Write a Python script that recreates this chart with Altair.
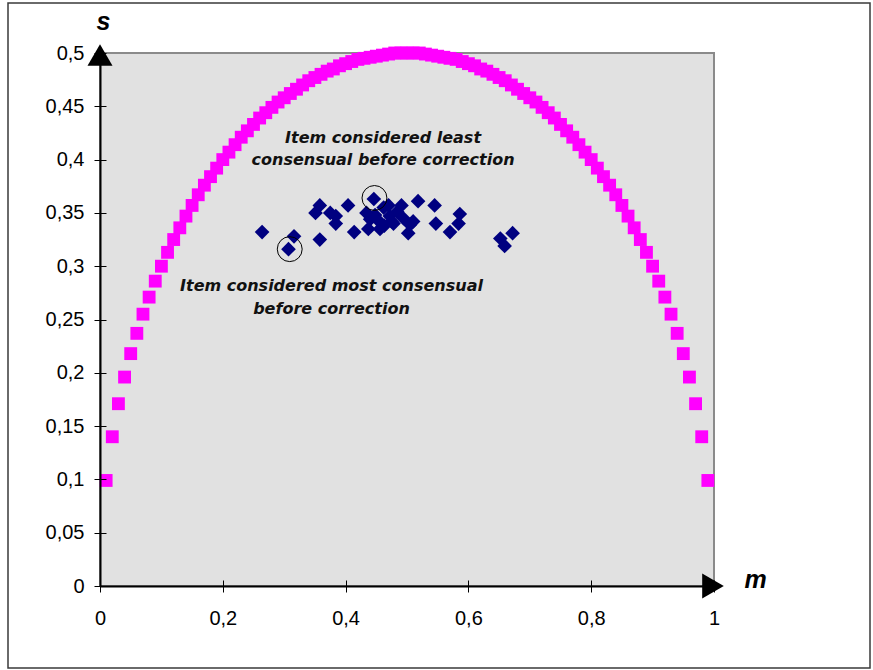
import altair as alt
import pandas as pd

# ---- data ----
curve_m = [0.01, 0.02, 0.03, 0.04, 0.05, 0.06, 0.07, 0.08, 0.09, 0.10,
           0.11, 0.12, 0.13, 0.14, 0.15, 0.16, 0.17, 0.18, 0.19, 0.20,
           0.21, 0.22, 0.23, 0.24, 0.25, 0.26, 0.27, 0.28, 0.29, 0.30,
           0.31, 0.32, 0.33, 0.34, 0.35, 0.36, 0.37, 0.38, 0.39, 0.40,
           0.41, 0.42, 0.43, 0.44, 0.45, 0.46, 0.47, 0.48, 0.49, 0.50,
           0.51, 0.52, 0.53, 0.54, 0.55, 0.56, 0.57, 0.58, 0.59, 0.60,
           0.61, 0.62, 0.63, 0.64, 0.65, 0.66, 0.67, 0.68, 0.69, 0.70,
           0.71, 0.72, 0.73, 0.74, 0.75, 0.76, 0.77, 0.78, 0.79, 0.80,
           0.81, 0.82, 0.83, 0.84, 0.85, 0.86, 0.87, 0.88, 0.89, 0.90,
           0.91, 0.92, 0.93, 0.94, 0.95, 0.96, 0.97, 0.98, 0.99]
curve_s = [0.099, 0.140, 0.171, 0.196, 0.218, 0.237, 0.255, 0.271, 0.286, 0.300,
           0.313, 0.325, 0.336, 0.347, 0.357, 0.367, 0.376, 0.384, 0.392, 0.400,
           0.407, 0.414, 0.421, 0.427, 0.433, 0.439, 0.444, 0.449, 0.454, 0.458,
           0.462, 0.466, 0.470, 0.474, 0.477, 0.480, 0.483, 0.485, 0.488, 0.490,
           0.492, 0.494, 0.495, 0.496, 0.497, 0.498, 0.499, 0.500, 0.500, 0.500,
           0.500, 0.500, 0.499, 0.498, 0.497, 0.496, 0.495, 0.494, 0.492, 0.490,
           0.488, 0.485, 0.483, 0.480, 0.477, 0.474, 0.470, 0.466, 0.462, 0.458,
           0.454, 0.449, 0.444, 0.439, 0.433, 0.427, 0.421, 0.414, 0.407, 0.400,
           0.392, 0.384, 0.376, 0.367, 0.357, 0.347, 0.336, 0.325, 0.313, 0.300,
           0.286, 0.271, 0.255, 0.237, 0.218, 0.196, 0.171, 0.140, 0.099]

item_m = [0.264, 0.316, 0.307, 0.358, 0.351, 0.358, 0.375, 0.384, 0.384, 0.404,
          0.414, 0.446, 0.434, 0.437, 0.448, 0.456, 0.453, 0.470, 0.478, 0.472,
          0.491, 0.494, 0.502, 0.510, 0.518, 0.545, 0.547, 0.570, 0.586, 0.584,
          0.652, 0.659, 0.672, 0.475, 0.505, 0.463, 0.484, 0.440, 0.462]
item_s = [0.332, 0.328, 0.316, 0.357, 0.350, 0.325, 0.350, 0.347, 0.340, 0.357,
          0.332, 0.363, 0.350, 0.335, 0.348, 0.335, 0.343, 0.357, 0.340, 0.347,
          0.357, 0.345, 0.331, 0.342, 0.361, 0.357, 0.340, 0.332, 0.349, 0.340,
          0.326, 0.319, 0.331, 0.342, 0.339, 0.338, 0.351, 0.344, 0.355]

circled_m = [0.447, 0.309]
circled_s = [0.364, 0.316]

notes = ["Item considered least", "consensual before correction",
         "Item considered most consensual", "before correction"]
note_m = [0.461, 0.461, 0.377, 0.377]
note_s = [0.420, 0.400, 0.281, 0.260]

y_ticks = [0, 0.05, 0.1, 0.15, 0.2, 0.25, 0.3, 0.35, 0.4, 0.45, 0.5]
x_ticks = [0, 0.2, 0.4, 0.6, 0.8, 1]

curve = pd.DataFrame({"m": curve_m, "s": curve_s})
items = pd.DataFrame({"m": item_m, "s": item_s})
circled = pd.DataFrame({"m": circled_m, "s": circled_s})
note_df = pd.DataFrame({"label": notes, "m": note_m, "s": note_s})
up_arrow = pd.DataFrame({"m": [0], "s": [0.5]})
right_arrow = pd.DataFrame({"m": [1], "s": [0]})
one = pd.DataFrame({"a": [0]})

FONT = "Liberation Sans"
label_expr = "replace(format(datum.value, '~g'), '.', ',')"

xs = alt.Scale(domain=[0, 1], nice=False, zero=True)
ys = alt.Scale(domain=[0, 0.5], nice=False, zero=True)

x_main = alt.Axis(orient="bottom", values=x_ticks, labelExpr=label_expr, grid=False,
                  domainColor="black", domainWidth=2, tickColor="black", tickSize=6,
                  tickWidth=1, labelFont=FONT, labelFontSize=20, labelColor="black",
                  labelPadding=16, labelFlush=False, labelOverlap=False,
                  title="m", titleFont=FONT, titleFontSize=25,
                  titleFontStyle="italic", titleFontWeight="bold", titleColor="black",
                  titleX=655, titleY=1, titleAlign="center", titleBaseline="alphabetic",
                  zindex=1)
y_main = alt.Axis(orient="left", values=y_ticks, labelExpr=label_expr, grid=False,
                  domainColor="black", domainWidth=2, tickColor="black", tickSize=6,
                  tickWidth=1, labelFont=FONT, labelFontSize=20, labelColor="black",
                  labelPadding=10, labelFlush=False, labelOverlap=False,
                  title="s", titleFont=FONT, titleFontSize=25,
                  titleFontStyle="italic", titleFontWeight="bold", titleColor="black",
                  titleAngle=0, titleX=3, titleY=-24, titleAlign="center",
                  titleBaseline="alphabetic", zindex=1)
x_inner = alt.Axis(orient="bottom", offset=-6, values=x_ticks, labels=False, domain=False,
                   grid=False, tickColor="black", tickSize=6, tickWidth=1, title=None,
                   zindex=1)
y_inner = alt.Axis(orient="left", offset=-6, values=y_ticks, labels=False, domain=False,
                   grid=False, tickColor="black", tickSize=6, tickWidth=1, title=None,
                   zindex=1)

frame = alt.Chart(one).mark_rect(filled=False, stroke="#3a3a3a", strokeWidth=1.5).encode(
    x=alt.value(-92), x2=alt.value(770), y=alt.value(-50), y2=alt.value(615)
)

curve_layer = alt.Chart(curve).mark_point(
    shape="square", filled=True, size=165, color="#ff00ff", opacity=1
).encode(
    x=alt.X("m:Q", scale=xs, axis=x_main),
    y=alt.Y("s:Q", scale=ys, axis=y_main),
)

items_layer = alt.Chart(items).mark_point(
    shape="diamond", filled=True, size=215, color="#000080", opacity=1
).encode(
    x=alt.X("m:Q", scale=xs, axis=x_inner),
    y=alt.Y("s:Q", scale=ys, axis=y_inner),
)

circle_layer = alt.Chart(circled).mark_point(
    shape="circle", filled=False, size=620, color="black", strokeWidth=1, opacity=1
).encode(
    x=alt.X("m:Q", scale=xs, axis=None),
    y=alt.Y("s:Q", scale=ys, axis=None),
)

note_layer = alt.Chart(note_df).mark_text(
    font="DejaVu Sans", fontSize=16, fontStyle="italic", fontWeight="bold",
    color="#111111", align="center", baseline="middle"
).encode(
    x=alt.X("m:Q", scale=xs, axis=None),
    y=alt.Y("s:Q", scale=ys, axis=None),
    text="label:N",
)

up_layer = alt.Chart(up_arrow).mark_point(
    shape="triangle-up", filled=True, size=625, color="black", opacity=1, yOffset=2
).encode(
    x=alt.X("m:Q", scale=xs, axis=None),
    y=alt.Y("s:Q", scale=ys, axis=None),
)

right_layer = alt.Chart(right_arrow).mark_point(
    shape="triangle-right", filled=True, size=625, color="black", opacity=1, xOffset=-1
).encode(
    x=alt.X("m:Q", scale=xs, axis=None),
    y=alt.Y("s:Q", scale=ys, axis=None),
)

chart = alt.layer(
    frame, curve_layer, items_layer, circle_layer, note_layer, up_layer, right_layer
).resolve_axis(
    x="independent", y="independent"
).properties(
    width=614, height=533,
    padding={"left": 100, "top": 53, "right": 159, "bottom": 84},
    autosize=alt.AutoSizeParams(type="none"),
    background="white",
).configure_view(
    fill="#e1e1e1", stroke="#8a8a8a", strokeWidth=2
)

chart.save("out.html", embed_options={"renderer": "svg", "actions": False})
